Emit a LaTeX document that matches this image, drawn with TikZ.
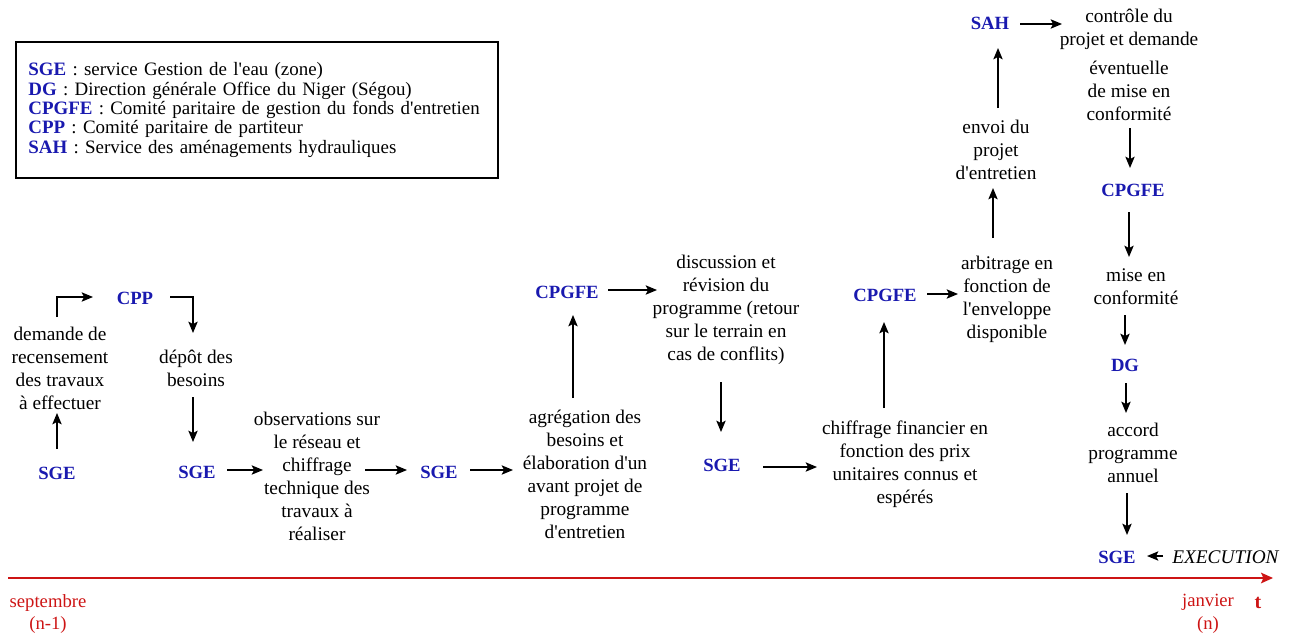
\documentclass[tikz,border=0pt]{standalone}
\usepackage{fontspec}
\setmainfont{Liberation Serif}[Ligatures=TeXOff]
\usetikzlibrary{arrows.meta}
\definecolor{agblue}{RGB}{25,25,175}
\definecolor{axred}{RGB}{205,20,20}
\begin{document}
\begin{tikzpicture}[x=0.75pt,y=-0.75pt,
  agent/.style={font=\fontsize{14}{17}\selectfont\bfseries, text=agblue, inner sep=0pt},
  desc/.style={align=center, font=\fontsize{14.5}{17.25}\selectfont, inner sep=0pt},
  redtext/.style={align=center, font=\fontsize{14}{17}\selectfont, text=axred, inner sep=0pt},
  arr/.style={-{Stealth[length=8.5pt,width=7pt,inset=1.8pt]}, line width=1pt},
  legendbox/.style={draw, line width=1.1pt, align=left, text width=350pt, inner xsep=5.75pt, inner ysep=0pt,
    minimum width=361.5pt, minimum height=102pt, font=\fontsize{14.2}{14.6}\selectfont}
]
\useasboundingbox (0,0) rectangle (1294,642);

% legend
\node[legendbox] (legend) at (257,110) {%
  \hspace*{3.5pt}\textcolor{agblue}{\textbf{SGE}} : service Gestion de l'eau (zone)\\
  \hspace*{3.5pt}\textcolor{agblue}{\textbf{DG}} : Direction générale Office du Niger (Ségou)\\
  \hspace*{3.5pt}\textcolor{agblue}{\textbf{CPGFE}} : Comité paritaire de gestion du fonds d'entretien\\
  \hspace*{3.5pt}\textcolor{agblue}{\textbf{CPP}} : Comité paritaire de partiteur\\
  \hspace*{3.5pt}\textcolor{agblue}{\textbf{SAH}} : Service des aménagements hydrauliques};

% nodes
\node[agent] (sge1) at (57,473) {SGE};
\node[desc] (dem) at (60,368) {demande de\\recensement\\des travaux\\à effectuer};
\node[agent] (cpp) at (135,298) {CPP};
\node[desc] (dep) at (196,368) {dépôt des\\besoins};
\node[agent] (sge2) at (197,472) {SGE};
\node[desc] (obs) at (317,476) {observations sur\\le réseau et\\chiffrage\\technique des\\travaux à\\réaliser};
\node[agent] (sge3) at (439,472) {SGE};
\node[desc] (agr) at (585,474) {agrégation des\\besoins et\\élaboration d'un\\avant projet de\\programme\\d'entretien};
\node[agent] (cpg1) at (567,292) {CPGFE};
\node[desc] (disc) at (726,310) {discussion et\\révision du\\programme (retour\\sur le terrain en\\cas de conflits)};
\node[agent] (sge4) at (722,465) {SGE};
\node[desc] (chif) at (905,464) {chiffrage financier en\\fonction des prix\\unitaires connus et\\espérés};
\node[agent] (cpg2) at (885,295) {CPGFE};
\node[desc] (arb) at (1007,299) {arbitrage en\\fonction de\\l'enveloppe\\disponible};
\node[desc] (env) at (996,150) {envoi du\\projet\\d'entretien};
\node[agent] (sah) at (990,23) {SAH};
\node[desc] (ctl) at (1129,65) {contrôle du\\projet et demande\\[4pt]éventuelle\\de mise en\\conformité};
\node[agent] (cpg3) at (1133,190) {CPGFE};
\node[desc] (mise) at (1136,287) {mise en\\conformité};
\node[agent] (dg) at (1125,365) {DG};
\node[desc] (acc) at (1133,453) {accord\\programme\\annuel};
\node[agent] (sge5) at (1117,557) {SGE};
\node[desc, anchor=west, font=\fontsize{14.5}{17.25}\selectfont\itshape] (exe) at (1172,557) {EXECUTION};

% time axis
\coordinate (t0) at (8,578);
\coordinate (t1) at (1273,578);
\draw[axred, line width=1pt, -{Stealth[length=9pt,width=8pt,inset=1.8pt]}] (t0) -- (t1);
\node[redtext] (sept) at (48,614) {septembre\\(n-1)};
\node[redtext] (janv) at (1208,614) {janvier\\(n)};
\node[redtext, font=\fontsize{15}{17}\selectfont\bfseries] (tlab) at (1258,603) {t};

% connectors
\draw[arr] ([shift={(0,-24)}]sge1.center) -- ([shift={(-3,45)}]dem.center);
\draw[arr] ([shift={(-3,-51)}]dem.center) |- ([shift={(-42,-1)}]cpp.center);
\draw[arr] ([shift={(35,-1)}]cpp.center) -| ([shift={(-3,-35)}]dep.center);
\draw[arr] ([shift={(-3,29)}]dep.center) -- ([shift={(-4,-30)}]sge2.center);
\draw[arr] ([shift={(30,-2)}]sge2.center) -- ([shift={(-54,-6)}]obs.center);
\draw[arr] ([shift={(48,-6)}]obs.center) -- ([shift={(-32,-2)}]sge3.center);
\draw[arr] ([shift={(31,-2)}]sge3.center) -- ([shift={(-72,-4)}]agr.center);
\draw[arr] ([shift={(-12,-76)}]agr.center) -- ([shift={(6,23)}]cpg1.center);
\draw[arr] ([shift={(41,-2)}]cpg1.center) -- ([shift={(-69,-20)}]disc.center);
\draw[arr] ([shift={(-5,72)}]disc.center) -- ([shift={(-1,-33)}]sge4.center);
\draw[arr] ([shift={(41,2)}]sge4.center) -- ([shift={(-88,3)}]chif.center);
\draw[arr] ([shift={(-21,-56)}]chif.center) -- ([shift={(-1,27)}]cpg2.center);
\draw[arr] ([shift={(42,-1)}]cpg2.center) -- ([shift={(-49,-5)}]arb.center);
\draw[arr] ([shift={(-14,-61)}]arb.center) -- ([shift={(-3,38)}]env.center);
\draw[arr] ([shift={(2,-42)}]env.center) -- ([shift={(8,25)}]sah.center);
\draw[arr] ([shift={(30,1)}]sah.center) -- ([shift={(-67,-41)}]ctl.center);
\draw[arr] ([shift={(1,63)}]ctl.center) -- ([shift={(-3,-22)}]cpg3.center);
\draw[arr] ([shift={(-4,22)}]cpg3.center) -- ([shift={(-7,-30)}]mise.center);
\draw[arr] ([shift={(-11,28)}]mise.center) -- ([shift={(0,-20)}]dg.center);
\draw[arr] ([shift={(1,18)}]dg.center) -- ([shift={(-7,-40)}]acc.center);
\draw[arr] ([shift={(-6,40)}]acc.center) -- ([shift={(10,-22)}]sge5.center);
\draw[arr] ([shift={(-9,-1)}]exe.west) -- ([shift={(30,-1)}]sge5.center);
\end{tikzpicture}
\end{document}
